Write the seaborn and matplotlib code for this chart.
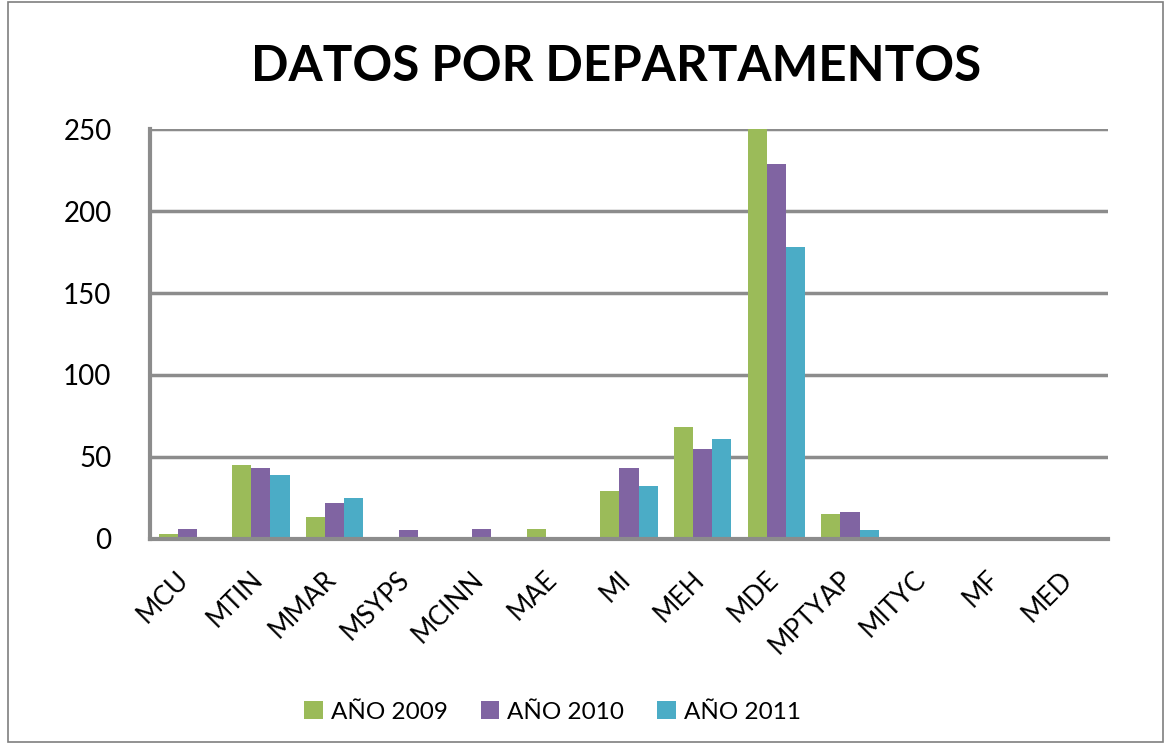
import pandas as pd
import matplotlib.pyplot as plt
import matplotlib.transforms as mtrans
import seaborn as sns

# Data
departamentos = ['MCU', 'MTIN', 'MMAR', 'MSYPS', 'MCINN', 'MAE', 'MI', 'MEH',
                 'MDE', 'MPTYAP', 'MITYC', 'MF', 'MED']
anio_2009 = [3, 45, 13, 1, 1, 6, 29, 68, 250, 15, 1, 0, 0]
anio_2010 = [6, 43, 22, 5, 6, 0, 43, 55, 229, 16, 1, 1, 0]
anio_2011 = [1, 39, 25, 1, 1, 0, 32, 61, 178, 5, 0, 0, 1]
series = ['AÑO 2009', 'AÑO 2010', 'AÑO 2011']

df = pd.DataFrame({'dep': departamentos, series[0]: anio_2009,
                   series[1]: anio_2010, series[2]: anio_2011})
df = df.melt(id_vars='dep', var_name='serie', value_name='valor')

sns.set_style('white')
plt.rcParams['font.family'] = ['Lato', 'DejaVu Sans']
plt.rcParams['text.color'] = 'black'

fig = plt.figure(figsize=(11.66, 7.44), dpi=100)
ax = fig.add_axes([0.129, 0.276, 0.821, 0.55])

colors = ['#9BBB59', '#8064A2', '#4BACC6']
sns.barplot(data=df, x='dep', y='valor', hue='serie', palette=colors,
            width=0.78, ax=ax, edgecolor='none', saturation=1)

ax.set_ylim(0, 250)
ax.set_yticks([0, 50, 100, 150, 200, 250])
ax.yaxis.grid(True, color='#8c8c8c', linewidth=2.5)
ax.set_axisbelow(True)
ax.set_xlabel('')
ax.set_ylabel('')
for s in ['top', 'right']:
    ax.spines[s].set_visible(False)
ax.spines['left'].set_color('#8c8c8c')
ax.spines['left'].set_linewidth(3)
ax.spines['bottom'].set_color('#8c8c8c')
ax.spines['bottom'].set_linewidth(3)
ax.tick_params(axis='y', labelsize=20, length=0, pad=28, labelcolor='black')
ax.tick_params(axis='x', labelsize=19, length=0, pad=20, labelcolor='black')
plt.setp(ax.get_xticklabels(), rotation=45, ha='right', rotation_mode='anchor')
offset = mtrans.ScaledTranslation(-8 / 72, 0, fig.dpi_scale_trans)
for lab in ax.get_xticklabels():
    lab.set_transform(lab.get_transform() + offset)

fig.text(0.528, 0.91, 'DATOS POR DEPARTAMENTOS', ha='center', va='center',
         fontsize=35.5, fontweight='bold')

handles, labels = ax.get_legend_handles_labels()
ax.legend_.remove()
fig.legend(handles, labels, loc='center', bbox_to_anchor=(0.474, 0.043), ncol=3,
           frameon=False, fontsize=17.5, handlelength=0.75, handleheight=0.75,
           columnspacing=1.35, handletextpad=0.35)

# chart border
fig.patches.append(plt.Rectangle((0.007, 0.003), 0.99, 0.994, transform=fig.transFigure,
                                 fill=False, edgecolor='#7f7f7f', linewidth=1.2))

fig.savefig('out.png', dpi=100)
